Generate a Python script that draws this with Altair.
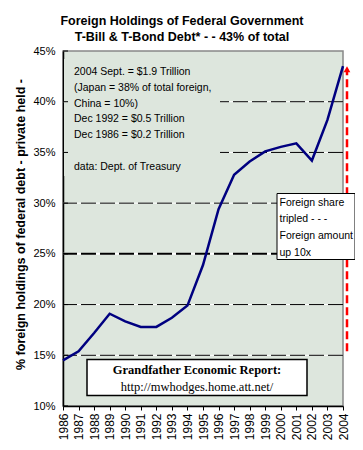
import altair as alt
import pandas as pd

# ---- data ----
years = list(range(1986, 2005))
share = [14.5, 15.4, 17.2, 19.1, 18.35, 17.8, 17.8, 18.7, 19.9, 23.9,
         29.4, 32.8, 34.1, 35.1, 35.55, 35.9, 34.2, 38.2, 43.5]
y_ticks = [10, 15, 20, 25, 30, 35, 40, 45]
grid_thin = [15, 20, 30, 35, 40]
grid_thick = [25]
arrow_from = [15.4]
arrow_to = [43.0]
arrow_head = [43.2]
title_lines = ["Foreign Holdings of Federal Government",
               "T-Bill & T-Bond Debt* - - 43% of total"]
notes = ["2004 Sept. = $1.9 Trillion", "(Japan = 38% of total foreign,",
         "China = 10%)", "Dec 1992 = $0.5 Trillion", "Dec 1986 = $0.2 Trillion"]
source_note = ["data: Dept. of Treasury"]
box_lines = ["Foreign share", "tripled - - -", "Foreign amount", "up 10x"]
credit_bold = ["Grandfather Economic Report:"]
credit_url = ["http://mwhodges.home.att.net/"]
y_title = "% foreign holdings of federal debt - private held -"

W, H = 280, 355
BG = "#dde6dd"
SANS = "Liberation Sans, Arial, sans-serif"
SERIF = "Liberation Serif, Times New Roman, serif"

xscale = alt.Scale(domain=[1986, 2004], nice=False, zero=False)
yscale = alt.Scale(domain=[10, 45], nice=False, zero=False)
xaxis = alt.Axis(values=years, format="d", labelAngle=-90, tickSize=4,
                 labelPadding=3, labelFontSize=12, title=None, grid=False)
yaxis = alt.Axis(values=y_ticks, labelExpr="datum.value + '%'", ticks=False,
                 labelPadding=8, title=y_title, grid=False,
                 titleX=-43, titleY=173, titleAngle=-90,
                 titleAlign="center", titleBaseline="middle",
                 titleFontSize=12.5, titleFontWeight="bold")


def X(field="year"):
    return alt.X(f"{field}:Q", scale=xscale, axis=xaxis)


def Y(field="v"):
    return alt.Y(f"{field}:Q", scale=yscale, axis=yaxis)


def text_block(lines, x, y0, dy, **style):
    layers = []
    for i, t in enumerate(lines):
        layers.append(
            alt.Chart(pd.DataFrame({"t": [t]}))
            .mark_text(baseline="middle", color="black", **style)
            .encode(text="t:N", x=alt.value(x), y=alt.value(y0 + i * dy))
        )
    return layers


one = pd.DataFrame({"k": [0]})

grid_df = pd.DataFrame({"v": grid_thin})
thick_df = pd.DataFrame({"v": grid_thick})
tick_df = pd.DataFrame({"v": y_ticks})
line_df = pd.DataFrame({"year": years, "v": share})
arrow_df = pd.DataFrame({"v": arrow_from, "v2": arrow_to})
head_df = pd.DataFrame({"v": arrow_head})

layers = []
# gridlines: white under, black dashed over
layers.append(alt.Chart(grid_df).mark_rule(color="white", strokeWidth=1).encode(y=Y()))
layers.append(alt.Chart(grid_df).mark_rule(color="black", strokeWidth=1,
                                           strokeDash=[15, 4]).encode(y=Y()))
layers.append(alt.Chart(thick_df).mark_rule(color="white", strokeWidth=2).encode(y=Y()))
layers.append(alt.Chart(thick_df).mark_rule(color="black", strokeWidth=2,
                                            strokeDash=[15, 4]).encode(y=Y()))
# background patch behind notes
layers.append(alt.Chart(one).mark_rect(fill=BG).encode(
    x=alt.value(1), x2=alt.value(157), y=alt.value(8), y2=alt.value(125)))
# inward y ticks
layers.append(alt.Chart(tick_df).mark_rule(color="black", strokeWidth=1).encode(
    y=Y(), x=alt.value(0), x2=alt.value(5)))
# notes
layers += text_block(notes, 11, 21, 15.75, align="left", fontSize=10.5, font=SANS)
layers += text_block(source_note, 11, 115.5, 0, align="left", fontSize=10.5, font=SANS)
# data line
layers.append(alt.Chart(line_df).mark_line(color="#000080", strokeWidth=2.5).encode(
    x=X(), y=Y()))
# red arrow
layers.append(alt.Chart(arrow_df).mark_rule(color="#ff0000", strokeWidth=2.5,
                                            strokeDash=[8, 4]).encode(
    x=alt.value(284), y=Y(), y2="v2:Q"))
layers.append(alt.Chart(head_df).mark_point(shape="triangle-up", filled=True,
                                            color="#ff0000", opacity=1, size=45).encode(
    x=alt.value(284), y=Y()))
# foreign share box
layers.append(alt.Chart(one).mark_rect(fill="white", stroke="black", strokeWidth=1).encode(
    x=alt.value(214), x2=alt.value(292), y=alt.value(142.5), y2=alt.value(208.5)))
layers += text_block(box_lines, 216.5, 151.5, 16.7, align="left", fontSize=10.5, font=SANS)
# credit box
layers.append(alt.Chart(one).mark_rect(fill="white", stroke="black", strokeWidth=1.5).encode(
    x=alt.value(24), x2=alt.value(244), y=alt.value(308.5), y2=alt.value(344.5)))
layers += text_block(credit_bold, 134, 318.5, 0, align="center", fontSize=12.5,
                     font=SERIF, fontWeight="bold")
layers += text_block(credit_url, 134, 335.5, 0, align="center", fontSize=12.5, font=SERIF)
# title
layers += text_block(title_lines, 119, -30, 16, align="center", fontSize=12.5,
                     font=SANS, fontWeight="bold")

chart = (
    alt.layer(*layers)
    .properties(width=W, height=H,
                padding={"left": 55, "top": 43, "right": 12, "bottom": 35},
                autosize=alt.AutoSizeParams(type="none"))
    .configure_view(stroke="#888888", strokeWidth=1.5, fill=BG)
    .configure_axis(domainColor="black", domainWidth=1.5, labelColor="black",
                    labelFont=SANS, labelFontSize=11, titleFont=SANS,
                    titleFontSize=12.5, titleFontWeight="bold", titleColor="black",
                    tickColor="black")
)

chart.save("out.html", embed_options={"renderer": "svg", "actions": False})
